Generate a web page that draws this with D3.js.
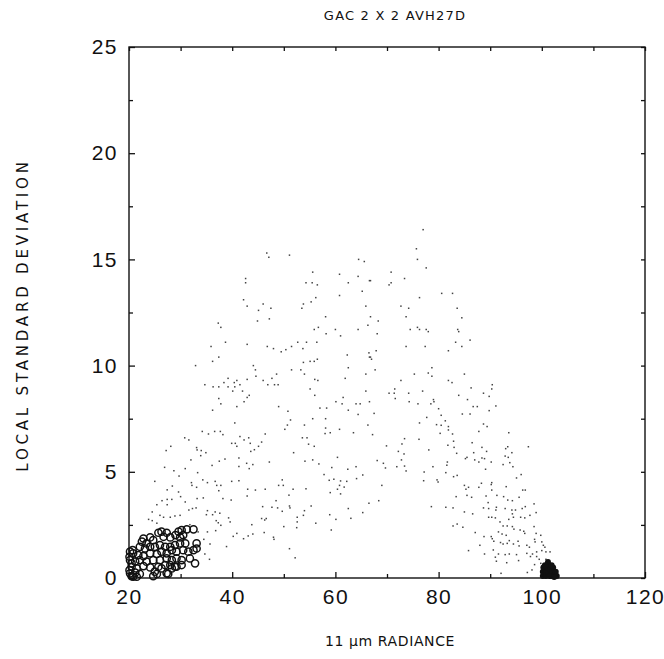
<!DOCTYPE html>
<html>
<head>
<meta charset="utf-8">
<script src="https://cdn.jsdelivr.net/npm/d3@7"></script>
<style>
  body{ margin:0; padding:0; background:#fff; }
  svg{ display:block; }
  text{ font-family:"DejaVu Sans", "Liberation Sans", sans-serif; fill:#111; }
  .tick text{ font-size:21px; font-family:"Liberation Sans", sans-serif; letter-spacing:1.5px; }
</style>
</head>
<body>
<svg id="chart" width="664" height="659"></svg>
<script>
  // values: [radiance, local std dev]
  let title  = 'GAC 2 X 2 AVH27D';
  let xLabel = '11 \u03bcm RADIANCE';
  let yLabel = 'LOCAL STANDARD DEVIATION';
  let xTicks = [20, 40, 60, 80, 100, 120];
  let yTicks = [0, 5, 10, 15, 20, 25];

  // scattered small points
  let dots = [
    [46.7,15.3],[47.1,15.1],[51.1,15.2],[55.6,14.4],[54.3,13.9],[55.5,13.9],[56.5,13.8],[60.8,14.3],
    [64.5,15.0],[65.6,14.9],[62.5,13.9],[64.4,14.2],[66.6,14.0],[65.2,13.5],[60.8,13.3],[42.6,14.1],
    [42.6,13.9],[42.2,13.1],[42.9,12.8],[46.0,12.9],[47.5,12.7],[45.1,12.6],[47.2,12.2],[44.9,12.1],
    [53.8,12.9],[55.3,13.0],[56.2,13.2],[53.5,12.7],[58.1,12.3],[56.7,11.8],[55.9,11.7],[60.0,11.7],
    [58.2,11.5],[61.0,11.4],[64.4,11.7],[65.9,12.8],[66.3,11.9],[37.3,12.0],[37.8,11.8],[38.7,11.1],
    [35.9,10.9],[42.9,11.0],[46.8,10.9],[48.0,10.8],[49.5,10.65],[50.4,10.75],[51.5,10.9],[52.7,11.1],
    [53.7,10.8],[54.4,11.1],[56.4,11.1],[62.3,10.5],[66.5,10.6],[66.6,10.4],[37.4,10.4],[36.2,10.2],
    [32.9,10.0],[44.1,10.0],[44.5,9.8],[44.6,9.5],[48.6,9.6],[51.5,9.8],[53.3,9.8],[53.8,10.15],
    [55.1,10.2],[55.9,10.2],[56.5,10.3],[54.0,9.6],[62.5,9.9],[61.9,9.4],[65.9,9.6],[39.2,9.4],
    [38.4,9.2],[40.9,9.3],[40.4,9.2],[41.5,9.1],[39.2,9.0],[40.5,9.0],[34.7,9.1],[36.3,9.0],
    [37.4,9.0],[40.1,8.8],[42.9,9.35],[42.0,8.8],[46.0,9.3],[46.9,9.1],[47.7,9.4],[48.2,9.1],
    [48.9,9.1],[55.1,8.9],[56.0,9.35],[56.6,9.3],[56.0,8.6],[61.5,8.5],[65.9,8.8],[42.9,8.5],
    [43.3,8.6],[37.4,8.45],
    [77.0,16.4],[75.7,15.5],[75.9,15.0],[77.6,14.6],[70.8,14.4],[73.4,14.1],[66.8,14.0],[70.8,13.9],
    [70.4,13.8],[80.6,13.4],[82.7,13.4],[76.3,13.2],[72.7,12.8],[74.2,12.7],[83.6,12.7],[84.5,12.25],
    [73.7,12.3],[66.8,12.3],[68.3,12.1],[68.1,11.5],[74.5,11.7],[75.9,11.8],[76.3,11.7],[77.6,11.7],
    [78.0,11.6],[83.7,11.7],[83.9,11.6],[86.1,11.2],[83.3,11.1],[84.5,10.9],[81.9,10.7],[73.7,10.9],
    [77.4,10.9],[67.9,10.7],[66.8,10.4],[67.0,10.3],[67.7,9.8],[78.7,9.9],[78.0,9.65],[78.7,9.5],
    [75.3,9.6],[85.0,9.6],[72.7,9.3],[81.9,9.3],[82.6,9.2],[71.5,8.9],[71.4,8.7],[70.4,8.7],
    [74.2,8.7],[76.9,8.8],[86.3,8.95],[90.4,9.1],[90.3,8.9],[88.7,8.7],[89.8,8.55],[83.9,8.6],
    [79.0,8.4],[71.6,8.45],[85.6,8.4],
    [37.8,8.2],[42.3,8.3],[40.9,8.07],[36.2,7.9],[49.0,8.07],[50.8,7.85],[55.6,7.5],[58.1,7.5],
    [58.3,8.0],[60.1,8.3],[61.3,8.2],[64.0,8.2],[64.8,8.2],[66.6,8.3],[64.4,7.7],[62.5,7.9],
    [57.0,8.0],[51.3,7.44],[50.7,7.2],[54.0,7.2],[66.3,7.2],[40.5,7.3],[60.8,7.0],[63.5,6.84],
    [59.0,6.84],[58.1,7.06],[58.0,6.8],[53.6,6.6],[54.5,6.6],[54.8,6.3],[55.9,6.2],[50.2,7.0],
    [46.4,6.78],[45.7,6.4],[43.5,6.34],[43.2,6.6],[42.3,6.5],[41.5,6.66],[40.6,6.34],[39.9,6.34],
    [40.9,6.2],[45.1,6.2],[44.3,6.04],[43.6,5.96],[37.7,6.9],[38.2,6.75],[36.6,6.9],[35.4,6.78],
    [34.2,6.9],[31.6,6.5],[30.8,6.6],[28.1,6.2],[27.2,6.0],[33.1,6.14],[34.0,6.0],[33.2,6.03],
    [34.9,5.9],[33.9,5.76],[32.0,5.56],[37.5,5.5],[36.1,5.3],[38.6,5.6],[41.3,5.65],[42.8,5.4],
    [44.0,5.34],[43.3,5.15],[41.3,5.25],[47.2,5.46],[51.9,5.9],[54.1,5.5],[55.6,5.56],[56.8,5.37],
    [60.4,5.68],[59.3,5.2],[57.8,4.87],[58.8,4.6],[59.7,4.65],[61.0,4.57],[62.2,4.55],[64.1,4.68],
    [65.3,4.85],[62.4,5.12],[64.0,5.24],[60.8,4.36],[60.4,4.18],[61.7,4.28],[59.0,4.02],[61.0,3.96],
    [26.9,5.21],[28.7,5.05],[29.7,4.8],[30.9,5.15],[33.3,4.96],[34.3,4.62],[35.2,4.49],[36.7,4.55],
    [37.0,4.36],[37.8,4.36],[37.4,4.11],[39.9,4.55],[41.3,4.58],[43.0,4.18],[42.9,3.86],[44.5,4.14],
    [46.4,4.18],[49.0,4.36],[49.9,4.36],[49.7,4.62],[51.8,4.18],[51.0,3.9],[54.3,4.2],[25.0,4.55],
    [27.4,4.15],[28.4,4.33],[29.6,4.05],[30.0,3.83],[32.1,4.49],[32.2,4.36],[33.1,4.27],[34.4,3.77],
    [33.2,3.74],[38.2,3.74],[39.8,3.67],[27.4,3.7],[26.4,3.64],[28.3,3.7],[25.4,3.45],[27.4,3.45],
    [30.9,3.58],[32.3,3.27],[31.6,3.2],[35.2,3.17],[36.7,3.11],[37.6,3.05],[39.3,2.83],[39.6,2.64],
    [36.9,2.7],[37.3,2.6],[36.2,2.98],[35.0,2.98],[33.0,3.3],[24.5,3.11],[26.0,2.95],[26.7,2.86],
    [28.0,2.86],[28.9,2.92],[29.9,2.95],[23.8,2.76],[24.5,2.7],[25.4,2.58],[31.8,2.51],[30.7,1.92],
    [33.4,2.17],[35.2,2.17],[36.8,2.23],[37.8,2.48],[40.9,2.1],[42.2,1.85],[43.1,1.98],[43.8,2.51],
    [44.0,2.07],[45.7,2.8],[46.6,2.8],[46.2,2.14],[46.3,2.73],[48.0,1.92],[48.1,1.82],[50.0,2.42],
    [52.5,2.37],[52.6,2.64],[52.6,2.86],[53.8,2.95],[51.2,3.3],[51.1,3.39],[48.8,3.3],[49.7,3.14],
    [47.7,3.33],[48.5,3.64],[45.9,3.36],[54.0,3.17],[55.3,3.39],[56.2,2.58],[58.9,2.98],[59.2,2.26],
    [60.1,2.76],[62.5,3.27],[63.0,2.81],[65.3,3.08],[66.5,3.52],[51.1,1.38],[52.2,0.95],[34.5,1.82],
    [35.7,1.6],[34.7,1.13],[35.6,0.88],[38.9,1.48],[40.2,1.96],
    [74.3,8.3],[76.0,8.2],[78.5,8.2],[79.1,8.3],[67.5,7.75],[80.0,7.97],[80.5,7.66],[84.6,7.72],
    [86.1,7.72],[86.7,8.07],[87.5,8.07],[89.8,7.88],[91.1,8.1],[77.7,7.56],[76.3,7.3],[79.6,7.22],
    [80.5,7.19],[81.3,7.4],[81.9,7.13],[81.9,6.97],[80.3,6.81],[82.7,6.78],[87.8,6.9],[88.7,7.25],
    [89.4,7.13],[93.6,6.84],[67.2,6.75],[73.4,6.56],[76.2,6.53],[72.9,6.31],[69.9,6.22],[72.2,5.96],
    [73.3,5.84],[78.1,6.03],[81.8,6.25],[82.9,6.44],[83.0,6.15],[83.5,5.87],[86.8,5.9],[88.4,6.15],
    [89.3,5.96],[86.5,6.37],[93.4,6.18],[97.4,6.18],[93.0,6.09],[94.2,5.9],[92.9,5.74],[93.5,5.68],
    [68.1,5.53],[69.3,5.4],[69.7,5.18],[71.9,5.24],[72.8,5.56],[73.4,5.27],[73.7,5.04],[78.9,5.24],
    [81.7,5.46],[81.6,5.31],[85.2,5.62],[85.5,5.68],[87.0,5.56],[87.8,5.46],[88.4,5.65],[88.9,5.62],
    [90.2,5.46],[89.1,5.12],[92.5,5.34],[93.8,5.43],[94.4,5.24],[77.2,4.99],[77.1,4.58],[79.7,4.62],
    [79.9,4.52],[81.4,4.96],[82.9,4.77],[83.6,4.83],[69.0,4.36],[85.0,4.36],[85.8,4.27],[85.3,4.18],
    [87.8,4.27],[88.3,4.46],[90.3,4.49],[90.2,4.4],[90.3,4.14],[93.1,4.3],[95.1,4.71],[96.0,4.87],
    [96.3,4.14],[96.8,4.14],[83.4,3.83],[85.5,3.89],[86.4,3.8],[89.2,3.86],[91.3,3.89],[92.6,3.83],
    [93.4,3.67],[94.3,3.64],[95.6,3.8],[68.4,3.64],[78.6,3.36],[81.4,3.33],[82.8,3.3],[88.7,3.3],
    [89.6,3.55],[89.7,3.27],[91.2,3.33],[91.1,3.2],[92.9,3.27],[94.2,3.2],[94.9,3.2],[96.2,3.27],
    [96.8,3.36],[98.5,3.49],[85.0,3.11],[86.6,3.02],[94.3,3.02],[94.5,2.86],[95.9,2.86],[96.7,2.83],
    [97.7,2.95],[98.9,3.08],[89.7,2.86],[90.3,2.86],[91.0,2.83],[93.6,2.76],[82.8,2.45],[83.6,2.54],
    [84.7,2.39],[87.1,2.14],[91.9,2.64],[92.5,2.45],[93.3,2.45],[94.3,2.42],[94.6,2.3],[95.8,2.26],
    [96.5,2.2],[96.7,2.1],[98.5,2.42],[98.9,2.1],[99.8,2.01],[91.6,2.17],[92.3,2.07],[93.1,2.01],
    [90.2,1.95],[90.4,1.85],[88.8,1.95],[88.0,1.54],[90.7,1.73],[92.0,1.67],[92.5,1.6],[93.3,1.63],
    [93.7,1.76],[94.5,1.6],[95.4,1.73],[95.6,1.51],[97.1,1.54],[97.6,1.45],[98.6,1.82],[98.7,1.7],
    [100.0,1.7],[100.3,1.54],[100.6,1.45],[90.6,1.32],[88.9,1.13],[91.6,1.13],[92.9,1.1],[93.7,1.13],
    [95.1,1.1],[97.1,1.16],[98.2,1.13],[99.0,1.23],[100.0,1.29],[100.8,1.23],[85.8,1.29],[91.0,0.98],
    [91.2,0.79],[93.2,0.72],[95.5,0.82],[97.8,1.01],[99.0,1.01],[99.5,0.88],[98.6,0.63],[99.8,0.69],
    [100.8,0.88],[100.8,0.72],[97.2,0.26],[98.1,0.38],[92.1,0.22],[101.6,1.23]
  ];

  // open circles, cold cloudy corner
  let rings = [
    [30.2,2.26],[31.2,2.29],[32.5,2.29],[29.6,2.18],[29.0,2.02],[27.3,2.13],[26.3,2.18],[25.7,2.13],
    [24.1,1.91],[22.8,1.86],[22.5,1.71],[23.4,1.63],[24.7,1.78],[26.7,1.94],[28.0,1.91],[29.9,1.91],
    [30.5,2.02],[22.1,1.47],[23.1,1.39],[24.1,1.47],[25.0,1.47],[26.0,1.55],[27.0,1.47],[28.0,1.47],
    [28.9,1.55],[29.9,1.63],[30.9,1.63],[33.1,1.63],[33.1,1.39],[20.8,1.16],[21.8,1.08],[22.8,1.03],
    [24.1,1.16],[25.4,1.13],[26.3,1.24],[27.3,1.16],[28.3,1.31],[29.2,1.24],[30.5,1.31],[31.5,1.24],
    [32.5,1.31],[20.2,0.84],[21.2,0.77],[22.1,0.84],[23.4,0.77],[24.7,0.84],[26.0,0.84],[27.3,0.92],
    [28.3,0.84],[29.2,0.92],[30.2,0.84],[31.8,0.92],[32.8,0.69],[20.5,0.53],[21.5,0.45],[22.8,0.56],
    [24.1,0.5],[25.7,0.53],[27.0,0.61],[28.0,0.61],[28.9,0.53],[30.2,0.61],[20.2,0.22],[21.2,0.25],
    [22.1,0.19],[25.0,0.3],[26.3,0.45],[27.3,0.22],[28.3,0.45],[29.2,0.53],[20.5,0.09],[21.5,0.06],
    [24.7,0.09],[25.4,0.19],[27.6,0.19],[20.2,1.24],[20.7,1.31],[20.1,1.0],[20.5,0.69],[20.1,0.37],
    [20.8,0.06]
  ];

  // filled points, warm clear corner
  let solid = [
    [100.2,0.1],[100.2,0.3],[100.3,0.5],[100.8,0.1],[100.8,0.3],[101.0,0.5],[101.3,0.2],[101.4,0.6],
    [101.6,0.4],[101.8,0.1],[102.0,0.3],[102.2,0.5],[102.5,0.15],[102.7,0.3],[102.9,0.1],[101.2,0.75],
    [100.6,0.6],[101.9,0.6],[101.5,0.1],[102.4,0.05]
  ];

  let svg = d3.select('#chart');
  let x = d3.scaleLinear().domain([20, 120]).range([129, 645]);
  let y = d3.scaleLinear().domain([0, 25]).range([578, 47]);

  let xMinor = d3.range(30, 120, 20);
  let yMinor = d3.range(2.5, 25, 5);

  function clean(g){
    g.select('.domain').remove();
    g.selectAll('.tick line').attr('stroke', '#111').attr('stroke-width', 1.3);
  }

  // bottom / top ticks (pointing inward)
  svg.append('g').attr('transform', 'translate(0,578)')
    .call(d3.axisBottom(x).tickValues(xTicks).tickSize(-6).tickPadding(13).tickFormat(d3.format('d')))
    .call(clean)
    .call(g => g.selectAll('.tick text').attr('dy', '0.6em'));
  svg.append('g').attr('transform', 'translate(0,578)')
    .call(d3.axisBottom(x).tickValues(xMinor).tickSize(-4).tickFormat(''))
    .call(clean);
  svg.append('g').attr('transform', 'translate(0,47)')
    .call(d3.axisTop(x).tickValues(xTicks.concat(xMinor)).tickSize(-4).tickFormat(''))
    .call(clean);

  // left / right ticks
  svg.append('g').attr('transform', 'translate(129,0)')
    .call(d3.axisLeft(y).tickValues(yTicks).tickSize(-6).tickPadding(11).tickFormat(d3.format('d')))
    .call(clean);
  svg.append('g').attr('transform', 'translate(129,0)')
    .call(d3.axisLeft(y).tickValues(yMinor).tickSize(-4).tickFormat(''))
    .call(clean);
  svg.append('g').attr('transform', 'translate(645,0)')
    .call(d3.axisRight(y).tickValues(yTicks.concat(yMinor)).tickSize(-4).tickFormat(''))
    .call(clean);

  // frame
  svg.append('rect')
    .attr('x', x(20)).attr('y', y(25))
    .attr('width', x(120) - x(20)).attr('height', y(0) - y(25))
    .attr('fill', 'none').attr('stroke', '#111').attr('stroke-width', 1.4);

  svg.append('g').selectAll('rect')
    .data(dots)
    .enter()
    .append('rect')
      .attr('x', d => x(d[0]) - 0.75)
      .attr('y', d => y(d[1]) - 0.75)
      .attr('width', 1.5)
      .attr('height', 1.5)
      .attr('fill', '#444');

  svg.append('g').selectAll('circle')
    .data(rings)
    .enter()
    .append('circle')
      .attr('cx', d => x(d[0]))
      .attr('cy', d => y(d[1]))
      .attr('r', 3.6)
      .attr('fill', 'none')
      .attr('stroke', '#111')
      .attr('stroke-width', 1.5);

  svg.append('g').selectAll('circle')
    .data(solid)
    .enter()
    .append('circle')
      .attr('cx', d => x(d[0]))
      .attr('cy', d => y(d[1]))
      .attr('r', 3)
      .attr('fill', '#111');

  // labels
  svg.append('text')
    .attr('x', 395).attr('y', 20)
    .attr('text-anchor', 'middle')
    .style('font-size', '13px').style('letter-spacing', '1.2px')
    .text(title);

  svg.append('text')
    .attr('transform', 'translate(28,315) rotate(-90)')
    .attr('text-anchor', 'middle')
    .style('font-size', '15px').style('letter-spacing', '3.8px')
    .text(yLabel);

  svg.append('text')
    .attr('x', 390).attr('y', 646)
    .attr('text-anchor', 'middle')
    .style('font-size', '14px').style('letter-spacing', '0.6px')
    .text(xLabel);
</script>
</body>
</html>
